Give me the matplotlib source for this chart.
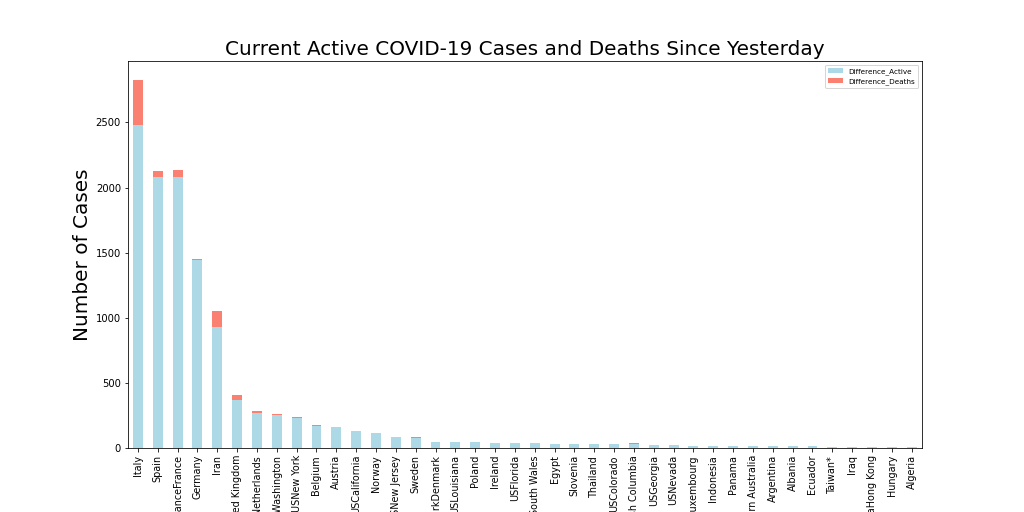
import pandas as pd
import matplotlib
matplotlib.use("Agg")
import matplotlib.pyplot as plt

locations = [
    "Italy", "Spain", "FranceFrance", "Germany", "Iran", "United Kingdom",
    "NetherlandsNetherlands", "USWashington", "USNew York", "Belgium", "Austria",
    "USCalifornia", "Norway", "USNew Jersey", "Sweden", "DenmarkDenmark",
    "USLouisiana", "Poland", "Ireland", "USFlorida", "AustraliaNew South Wales",
    "Egypt", "Slovenia", "Thailand", "USColorado", "CanadaBritish Columbia",
    "USGeorgia", "USNevada", "LuxembourgLuxembourg", "Indonesia", "Panama",
    "AustraliaWestern Australia", "Argentina", "Albania", "Ecuador", "Taiwan*",
    "Iraq", "ChinaHong Kong", "Hungary", "Algeria",
]

diff_active = [
    2477, 2084, 2078, 1446, 928, 366,
    271, 250, 227, 169, 158,
    130, 115, 82, 77, 49,
    43, 43, 38, 38, 38,
    33, 34, 34, 31, 28,
    23, 23, 18, 18, 15,
    15, 15, 15, 15, 10,
    10, 10, 10, 10,
]

diff_deaths = [
    350, 46, 59, 8, 125, 38,
    10, 13, 11, 7, 0,
    0, 0, 0, 7, 0,
    0, 0, 0, 0, 0,
    0, 0, 0, 0, 9,
    0, 0, 0, 0, 0,
    0, 0, 0, 0, 0,
    0, 0, 0, 0,
]


def main():
    df = pd.DataFrame(
        {"Difference_Active": diff_active, "Difference_Deaths": diff_deaths},
        index=locations,
    )

    fig, ax = plt.subplots(figsize=(1024 / 72, 512 / 72), dpi=72)
    fig.subplots_adjust(left=0.125, right=0.9, top=0.88, bottom=0.125)

    df.plot(kind="bar", stacked=True, color=["lightblue", "salmon"], ax=ax)
    ax.set_title("Current Active COVID-19 Cases and Deaths Since Yesterday", fontsize=20)
    ax.set_ylabel("Number of Cases", fontsize=20)
    ax.tick_params(axis="y", labelsize=10)
    ax.tick_params(axis="x", labelsize=9.6)
    ax.legend(loc="upper right", fontsize=7.2)

    fig.savefig("out.png", dpi=72)
    plt.close(fig)


if __name__ == "__main__":
    main()
